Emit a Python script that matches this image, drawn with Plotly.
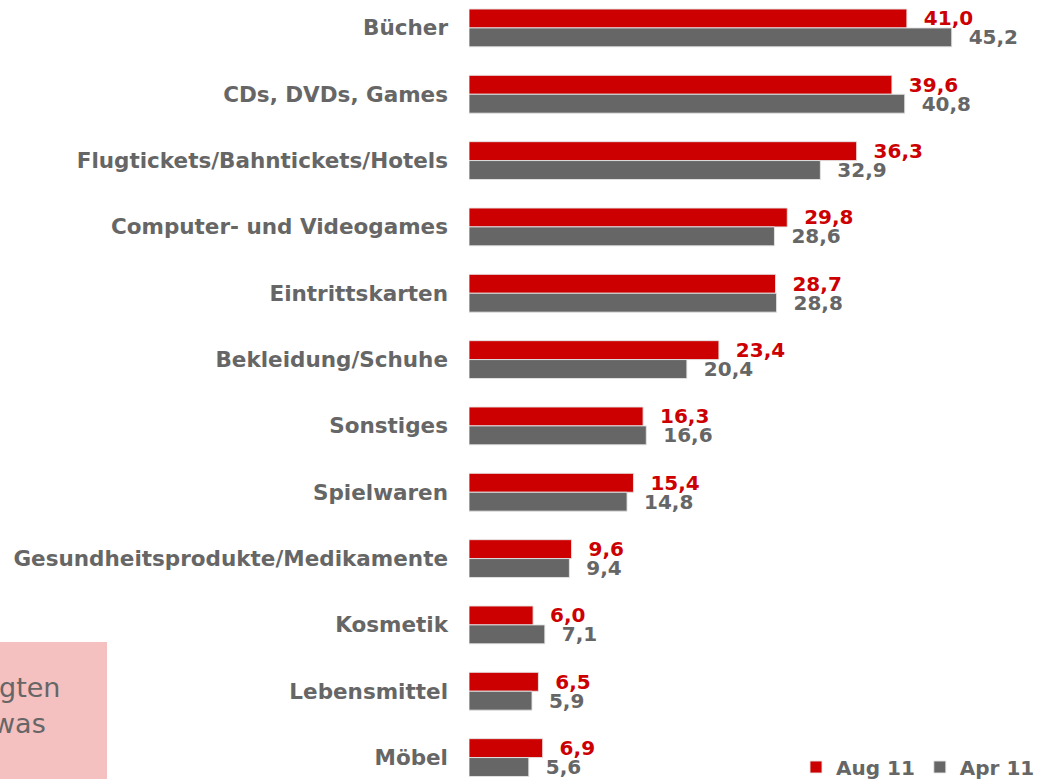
import plotly.graph_objects as go

categories = ["Bücher", "CDs, DVDs, Games", "Flugtickets/Bahntickets/Hotels",
              "Computer- und Videogames", "Eintrittskarten", "Bekleidung/Schuhe",
              "Sonstiges", "Spielwaren", "Gesundheitsprodukte/Medikamente",
              "Kosmetik", "Lebensmittel", "Möbel"]
aug11 = [41.0, 39.6, 36.3, 29.8, 28.7, 23.4, 16.3, 15.4, 9.6, 6.0, 6.5, 6.9]
apr11 = [45.2, 40.8, 32.9, 28.6, 28.8, 20.4, 16.6, 14.8, 9.4, 7.1, 5.9, 5.6]
series_names = ["Aug 11", "Apr 11"]

RED = "#CC0000"
GRAY = "#666666"
FONT = "Verdana, DejaVu Sans, sans-serif"

W, H = 1047, 779
L, R, T, B = 469, 7, 0, 0
PW = W - L - R
PH = H - T - B


def px_x(p):
    return (p - L) / PW


def px_y(p):
    return (H - B - p) / PH


fig = go.Figure()
for name, vals, col in [(series_names[0], aug11, RED), (series_names[1], apr11, GRAY)]:
    fig.add_trace(go.Bar(
        name=name, y=categories, x=vals, orientation="h",
        marker=dict(color=col, line=dict(color="rgba(230,230,230,0.9)", width=1)),
        text=vals, texttemplate="\u00a0\u00a0%{x:.1f}", textposition="outside",
        textfont=dict(family=FONT, size=20, color=col, weight="bold"),
        constraintext="none", cliponaxis=False,
    ))

fig.update_layout(
    width=W, height=H, barmode="group", bargap=0.43, bargroupgap=0,
    separators=",.",
    margin=dict(l=L, r=R, t=T, b=B, autoexpand=False),
    plot_bgcolor="white", paper_bgcolor="white",
    xaxis=dict(range=[0, PW / 10.68], visible=False),
    yaxis=dict(type="category", range=[11.323, -0.421], showgrid=False, zeroline=False,
               showline=False, ticks="", ticklabelstandoff=20, automargin=False,
               tickfont=dict(family=FONT, size=21.5, color=GRAY, weight="bold")),
    legend=dict(orientation="h", traceorder="normal", x=1, xanchor="right",
                y=px_y(767), yanchor="middle", bgcolor="rgba(0,0,0,0)",
                font=dict(family=FONT, size=20, color=GRAY, weight="bold"),
                itemwidth=30),
    showlegend=True,
)

fig.add_shape(type="rect", xref="paper", yref="paper",
              x0=px_x(-5), x1=px_x(107), y0=px_y(785), y1=px_y(642),
              fillcolor="#F4C0C0", line=dict(width=0), layer="below")
fig.add_annotation(xref="paper", yref="paper", x=px_x(-3), y=px_y(687),
                   xanchor="left", yanchor="middle", showarrow=False, text="gten",
                   font=dict(family=FONT, size=27, color=GRAY))
fig.add_annotation(xref="paper", yref="paper", x=px_x(-9), y=px_y(723),
                   xanchor="left", yanchor="middle", showarrow=False, text="was",
                   font=dict(family=FONT, size=27, color=GRAY))

fig.write_html("out.html", config={"displayModeBar": False},
               post_script="document.body.style.margin='0';"
                           "document.documentElement.style.overflow='hidden';")
